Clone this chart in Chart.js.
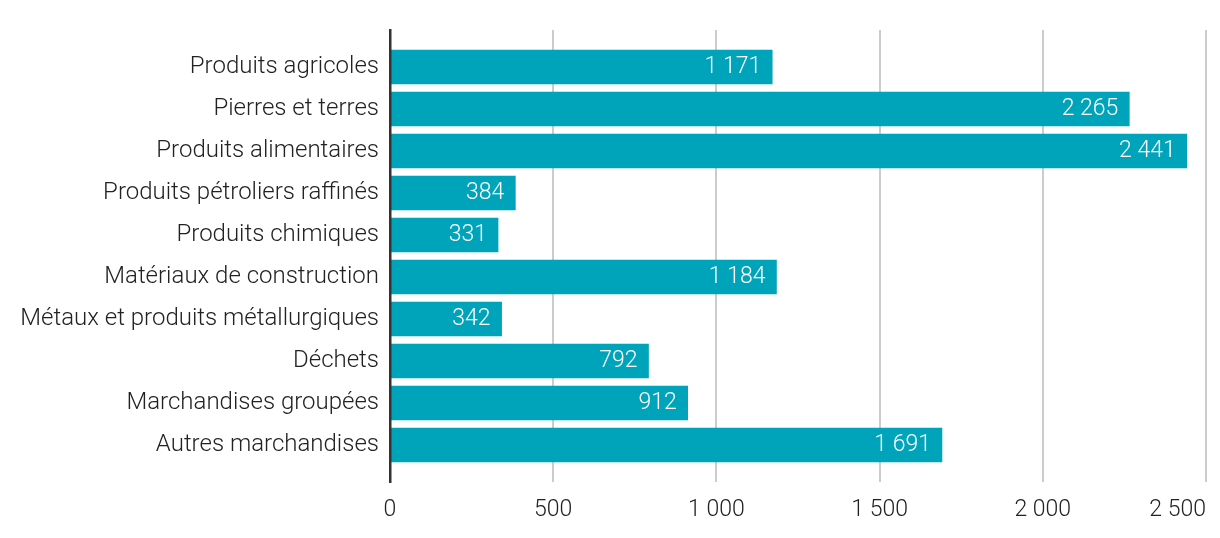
<!DOCTYPE html>
<html>
<head>
<meta charset="utf-8">
<script src="https://cdn.jsdelivr.net/npm/chart.js@4/dist/chart.umd.min.js"></script>
<style>
  html, body { margin: 0; padding: 0; background: #fff; }
  canvas { display: block; }
</style>
</head>
<body>
<canvas id="chart" width="1220" height="538"></canvas>
<script>
// categories, top to bottom
const categories = [
    'Produits agricoles',
    'Pierres et terres',
    'Produits alimentaires',
    'Produits pétroliers raffinés',
    'Produits chimiques',
    'Matériaux de construction',
    'Métaux et produits métallurgiques',
    'Déchets',
    'Marchandises groupées',
    'Autres marchandises'
];
const values = [1171, 2265, 2441, 384, 331, 1184, 342, 792, 912, 1691];
const xTicks = [0, 500, 1000, 1500, 2000, 2500];

const BAR = '#00a4ba';
const TEXT = '#222222';

// "1 171" style thousands separator
function fmt(v) {
    return String(v).replace(/\B(?=(\d{3})+(?!\d))/g, ' ');
}

// white value labels at the end of each bar
const valueLabels = {
    id: 'valueLabels',
    afterDatasetsDraw(chart) {
        const ctx = chart.ctx;
        const meta = chart.getDatasetMeta(0);
        ctx.save();
        ctx.fillStyle = '#ffffff';
        ctx.font = '300 23px Roboto';
        ctx.textAlign = 'right';
        ctx.textBaseline = 'middle';
        meta.data.forEach((bar, i) => {
            ctx.fillText(fmt(values[i]), bar.x - 11, bar.y);
        });
        ctx.restore();
    }
};

// first x label centred, last one right-aligned (like the reference)
const xLabelAlign = {
    id: 'xLabelAlign',
    beforeDraw(chart) {
        const items = chart.scales.x.getLabelItems();
        if (items.length) {
            items[0].options.textAlign = 'center';
        }
    }
};

new Chart(document.getElementById('chart').getContext('2d'), {
    type: 'bar',
    data: {
        datasets: [{
            data: values.map((v, i) => ({ x: v, y: i })),
            backgroundColor: BAR,
            borderWidth: 0,
            barThickness: 34
        }]
    },
    plugins: [valueLabels, xLabelAlign],
    options: {
        indexAxis: 'y',
        responsive: false,
        animation: false,
        devicePixelRatio: 1,
        layout: { padding: { top: 30, right: 11, left: 0, bottom: 0 } },
        plugins: {
            legend: { display: false },
            tooltip: { enabled: false }
        },
        scales: {
            x: {
                type: 'linear',
                min: 0,
                max: 2500,
                afterBuildTicks: s => { s.ticks = xTicks.map(v => ({ value: v })); },
                afterFit: s => { s.height = 56; },
                grid: { color: '#cccccc', lineWidth: 2, drawTicks: false },
                border: { display: false },
                ticks: {
                    align: 'inner',
                    padding: 14,
                    color: TEXT,
                    font: { family: 'Roboto', size: 23, weight: 300 },
                    callback: v => fmt(v)
                }
            },
            y: {
                type: 'linear',
                offset: false,
                reverse: true,
                min: -0.881,
                max: 9.881,
                afterBuildTicks: s => { s.ticks = categories.map((c, i) => ({ value: i })); },
                afterFit: s => { s.width = 390; },
                grid: { display: false, drawTicks: false, offset: false },
                border: { display: true, color: '#333333', width: 2.5, z: 1 },
                ticks: {
                    padding: 11,
                    autoSkip: false,
                    color: TEXT,
                    font: { family: 'Roboto', size: 24, weight: 300 },
                    callback: v => categories[v]
                }
            }
        }
    }
});
</script>
</body>
</html>
